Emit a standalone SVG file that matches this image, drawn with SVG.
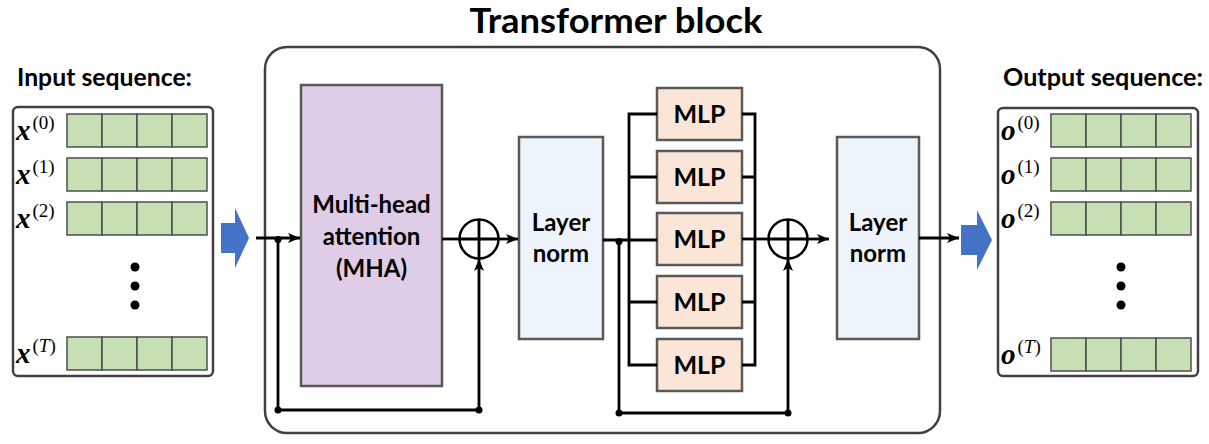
<svg xmlns="http://www.w3.org/2000/svg" width="1209" height="444" viewBox="0 0 1209 444">
<defs>
<style>
.lbl{font-family:Lato,"Open Sans","Liberation Sans",sans-serif;font-weight:700;fill:#000}
.math{font-family:"Liberation Serif","DejaVu Serif",serif;fill:#000}
.cell{fill:#C6E0B4;stroke:#4d4d4d;stroke-width:1.5}
.seq{fill:#fff;stroke:#404040;stroke-width:2.5}
.blk{fill:#fff;stroke:#404040;stroke-width:2.5}
.box{stroke:#595959;stroke-width:2.5}
.ln{fill:none;stroke:#000;stroke-width:2.8}
.dot{fill:#000}
.blue{fill:#4472C4}
</style>
<marker id="ah" markerWidth="13" markerHeight="11" refX="12" refY="5.5" orient="auto" markerUnits="userSpaceOnUse">
<path d="M0,0.5 L12,5.5 L0,10.5 L3,5.5 Z" fill="#000"/>
</marker>
<g id="row">
<rect class="cell" x="0" y="0" width="35" height="33"/>
<rect class="cell" x="35" y="0" width="35" height="33"/>
<rect class="cell" x="70" y="0" width="35" height="33"/>
<rect class="cell" x="105" y="0" width="35" height="33"/>
</g>
</defs>
<rect width="1209" height="444" fill="#fff"/>

<g id="transformer-block">
<rect class="blk" x="265" y="47" width="675" height="386" rx="22"/>
<text class="lbl" x="616" y="33" font-size="35" text-anchor="middle" textLength="293" lengthAdjust="spacingAndGlyphs">Transformer block</text>
</g>

<g id="input-sequence">
<text class="lbl" x="17" y="86" font-size="24" textLength="175" lengthAdjust="spacingAndGlyphs">Input sequence:</text>
<rect class="seq" x="13" y="107" width="200" height="269" rx="5"/>
<use href="#row" x="67" y="114"/>
<use href="#row" x="67" y="158"/>
<use href="#row" x="67" y="202"/>
<use href="#row" x="67" y="337"/>
<text class="math" x="16" y="140" font-size="29" font-weight="700" font-style="italic">x<tspan font-size="19" font-weight="400" font-style="normal" dx="2" dy="-11">(0)</tspan></text>
<text class="math" x="16" y="184" font-size="29" font-weight="700" font-style="italic">x<tspan font-size="19" font-weight="400" font-style="normal" dx="2" dy="-11">(1)</tspan></text>
<text class="math" x="16" y="228" font-size="29" font-weight="700" font-style="italic">x<tspan font-size="19" font-weight="400" font-style="normal" dx="2" dy="-11">(2)</tspan></text>
<text class="math" x="16" y="363" font-size="29" font-weight="700" font-style="italic">x<tspan font-size="19" font-weight="400" font-style="normal" dx="2" dy="-11">(<tspan font-style="italic">T</tspan>)</tspan></text>
<circle class="dot" cx="135" cy="267" r="4.5"/>
<circle class="dot" cx="135" cy="286" r="4.5"/>
<circle class="dot" cx="135" cy="305" r="4.5"/>
</g>

<g id="input-arrow">
<path class="blue" d="M221,223 H235 V208 L249,238 L235,268 V253 H221 Z"/>
</g>

<g id="mha">
<rect class="box" x="301" y="85" width="141" height="301" fill="#DFCCE6"/>
<text class="lbl" x="371.5" y="213" font-size="24" text-anchor="middle">Multi-head</text>
<text class="lbl" x="371.5" y="245" font-size="24" text-anchor="middle">attention</text>
<text class="lbl" x="371.5" y="277" font-size="24" text-anchor="middle">(MHA)</text>
</g>

<g id="add1">
<circle cx="479" cy="239" r="19.5" fill="#fff" stroke="#000" stroke-width="2.5"/>
<path class="ln" d="M459.5,239 H498.5 M479,219.5 V258.5"/>
</g>

<g id="layernorm1">
<rect class="box" x="519" y="137" width="84" height="202" fill="#EEF4FB"/>
<text class="lbl" x="561" y="231" font-size="24" text-anchor="middle">Layer</text>
<text class="lbl" x="561" y="262" font-size="24" text-anchor="middle">norm</text>
</g>

<g id="mlp1"><rect class="box" x="657" y="88" width="85" height="52" fill="#FBE5D6"/><text class="lbl" x="699.5" y="123" font-size="25" text-anchor="middle">MLP</text></g>
<g id="mlp2"><rect class="box" x="657" y="151" width="85" height="52" fill="#FBE5D6"/><text class="lbl" x="699.5" y="186" font-size="25" text-anchor="middle">MLP</text></g>
<g id="mlp3"><rect class="box" x="657" y="213" width="85" height="52" fill="#FBE5D6"/><text class="lbl" x="699.5" y="248" font-size="25" text-anchor="middle">MLP</text></g>
<g id="mlp4"><rect class="box" x="657" y="276" width="85" height="52" fill="#FBE5D6"/><text class="lbl" x="699.5" y="311" font-size="25" text-anchor="middle">MLP</text></g>
<g id="mlp5"><rect class="box" x="657" y="339" width="85" height="52" fill="#FBE5D6"/><text class="lbl" x="699.5" y="374" font-size="25" text-anchor="middle">MLP</text></g>

<g id="add2">
<circle cx="788" cy="239" r="19.5" fill="#fff" stroke="#000" stroke-width="2.5"/>
<path class="ln" d="M768.5,239 H807.5 M788,219.5 V258.5"/>
</g>

<g id="layernorm2">
<rect class="box" x="837" y="137" width="82" height="202" fill="#EEF4FB"/>
<text class="lbl" x="878" y="231" font-size="24" text-anchor="middle">Layer</text>
<text class="lbl" x="878" y="262" font-size="24" text-anchor="middle">norm</text>
</g>

<g id="output-arrow">
<path class="blue" d="M961,225 H977 V210 L992,240 L977,270 V255 H961 Z"/>
</g>

<g id="output-sequence">
<text class="lbl" x="1003" y="86" font-size="24" textLength="200" lengthAdjust="spacingAndGlyphs">Output sequence:</text>
<rect class="seq" x="998" y="108" width="200" height="268" rx="5"/>
<use href="#row" x="1051" y="114"/>
<use href="#row" x="1051" y="158"/>
<use href="#row" x="1051" y="202"/>
<use href="#row" x="1051" y="338"/>
<text class="math" x="1001" y="140" font-size="29" font-weight="700" font-style="italic">o<tspan font-size="19" font-weight="400" font-style="normal" dx="2" dy="-11">(0)</tspan></text>
<text class="math" x="1001" y="184" font-size="29" font-weight="700" font-style="italic">o<tspan font-size="19" font-weight="400" font-style="normal" dx="2" dy="-11">(1)</tspan></text>
<text class="math" x="1001" y="228" font-size="29" font-weight="700" font-style="italic">o<tspan font-size="19" font-weight="400" font-style="normal" dx="2" dy="-11">(2)</tspan></text>
<text class="math" x="1001" y="364" font-size="29" font-weight="700" font-style="italic">o<tspan font-size="19" font-weight="400" font-style="normal" dx="2" dy="-11">(<tspan font-style="italic">T</tspan>)</tspan></text>
<circle class="dot" cx="1121" cy="267" r="4.5"/>
<circle class="dot" cx="1121" cy="286" r="4.5"/>
<circle class="dot" cx="1121" cy="305" r="4.5"/>
</g>

<g id="connectors">
<path class="ln" d="M256,238 H300" marker-end="url(#ah)"/>
<path class="ln" d="M278,238 V410 H479 V259" marker-end="url(#ah)"/>
<circle class="dot" cx="278" cy="239.5" r="3.5"/>
<circle class="dot" cx="278" cy="410" r="3.5"/>
<circle class="dot" cx="479" cy="410" r="3.5"/>
<path class="ln" d="M442,239 H460"/>
<path class="ln" d="M498.5,239 H518" marker-end="url(#ah)"/>
<path class="ln" d="M603,240 H657"/>
<path class="ln" d="M619,240 V413 H788 V259" marker-end="url(#ah)"/>
<circle class="dot" cx="619" cy="241.5" r="3.5"/>
<circle class="dot" cx="619" cy="413" r="3.5"/>
<circle class="dot" cx="788" cy="413" r="3.5"/>
<path class="ln" d="M657,114 H629 V365 H657 M629,177 H657 M629,302 H657"/>
<path class="ln" d="M742,114 H755 V365 H742 M742,177 H755 M742,302 H755"/>
<path class="ln" d="M742,239 H769"/>
<path class="ln" d="M807.5,239 H829" marker-end="url(#ah)"/>
<path class="ln" d="M919,238 H959" marker-end="url(#ah)"/>
</g>
</svg>
